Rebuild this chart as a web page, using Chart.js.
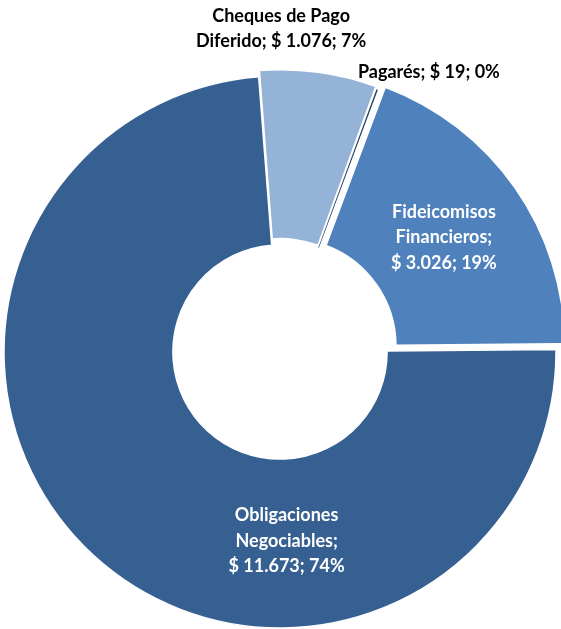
<!DOCTYPE html>
<html>
<head>
<meta charset="utf-8">
<script src="https://cdn.jsdelivr.net/npm/chart.js@4/dist/chart.umd.min.js"></script>
<style>
html,body{margin:0;padding:0;background:#fff;}
#wrap{width:561px;height:629px;}
</style>
</head>
<body>
<div id="wrap"><canvas id="c" width="561" height="629"></canvas></div>
<script>
// Data (order = clockwise from 3 o'clock)
const categories = ['Obligaciones Negociables', 'Cheques de Pago Diferido', 'Pagarés', 'Fideicomisos Financieros'];
const values = [11673, 1076, 19, 3026];
const percents = [74, 7, 0, 19];

// Styles
const colors = ['#376092', '#95B3D7', '#244062', '#4F81BD'];
const offsets = [0, 16, 8, 40];
const borderWidths = [1.5, 1.5, 0, 1.5];
const labelColors = ['#ffffff', '#000000', '#000000', '#ffffff'];
// label anchor: angle (deg clockwise from top) and radius factor of outer radius; wrap width px
const labelAngles = [178, 0.2, 28, 55];
const labelRadius = [0.685, 1.172, 1.149, 0.725];
const labelWrap = [150, 200, 400, 150];

function fmt(v){ return String(v).replace(/\B(?=(\d{3})+(?!\d))/g, '.'); }

const labelPlugin = {
  id: 'sliceLabels',
  afterDatasetsDraw(chart){
    const ctx = chart.ctx;
    const meta = chart.getDatasetMeta(0);
    ctx.save();
    ctx.font = 'bold 18px Lato, "Open Sans", sans-serif';
    ctx.textAlign = 'center';
    ctx.textBaseline = 'middle';
    const lh = 25.5;
    meta.data.forEach((arc, i) => {
      const p = arc.getProps(['x','y','outerRadius'], true);
      const a = labelAngles[i] * Math.PI / 180;
      const r = p.outerRadius * labelRadius[i];
      const cx = p.x + r * Math.sin(a);
      const cy = p.y - r * Math.cos(a);
      const words = categories[i].split(' ');
      words[words.length-1] += ';';
      const tokens = words.concat(['$ ' + fmt(values[i]) + '; ' + percents[i] + '%']);
      const lines = [];
      let cur = '';
      tokens.forEach(t => {
        const test = cur ? cur + ' ' + t : t;
        if (cur && ctx.measureText(test).width > labelWrap[i]) { lines.push(cur); cur = t; }
        else cur = test;
      });
      if (cur) lines.push(cur);
      ctx.fillStyle = labelColors[i];
      const y0 = cy - (lines.length - 1) * lh / 2;
      lines.forEach((ln, k) => ctx.fillText(ln, cx, y0 + k * lh));
    });
    ctx.restore();
  }
};

new Chart(document.getElementById('c'), {
  type: 'doughnut',
  data: {
    labels: categories,
    datasets: [{
      data: values,
      backgroundColor: colors,
      borderColor: '#ffffff',
      borderWidth: borderWidths,
      offset: offsets,
      clip: false
    }]
  },
  options: {
    responsive: false,
    animation: false,
    events: [],
    rotation: 89.5,
    radius: 276,
    cutout: '38.8%',
    layout: { padding: { left: 0, right: 1, top: 75, bottom: 0 } },
    plugins: { legend: { display: false }, tooltip: { enabled: false } }
  },
  plugins: [labelPlugin]
});
</script>
</body>
</html>
